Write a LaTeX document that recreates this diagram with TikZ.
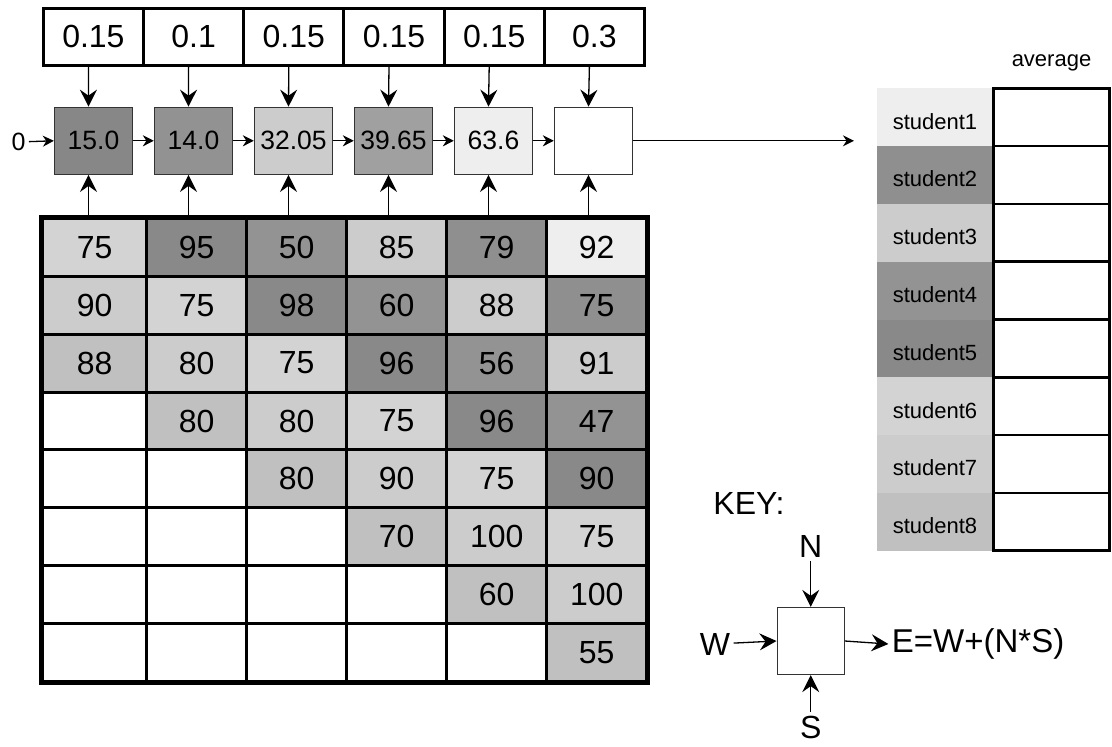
\documentclass[tikz,border=0pt]{standalone}
\usepackage{fontspec}
\setmainfont{Liberation Sans}
\usetikzlibrary{arrows.meta}
\definecolor{s1}{HTML}{EEEEEE}
\definecolor{s2}{HTML}{8F8F8F}
\definecolor{s3}{HTML}{CCCCCC}
\definecolor{s4}{HTML}{939393}
\definecolor{s5}{HTML}{898989}
\definecolor{s6}{HTML}{D3D3D3}
\definecolor{s7}{HTML}{CCCCCC}
\definecolor{s8}{HTML}{C0C0C0}
\definecolor{bA}{HTML}{878787}
\definecolor{bB}{HTML}{929292}
\definecolor{bC}{HTML}{CCCCCC}
\definecolor{bD}{HTML}{A0A0A0}
\definecolor{bE}{HTML}{EEEEEE}
\tikzset{
  bigfont/.style={font=\fontsize{32}{32}\selectfont},
  wcell/.style={draw=black, line width=3pt, minimum width=100.2pt, minimum height=57pt, inner sep=0pt, bigfont},
  pbox/.style={draw=black!80, line width=1.3pt, minimum width=78pt, minimum height=67pt, inner sep=0pt, font=\fontsize{26.5}{26.5}\selectfont},
  gcell/.style={draw=black, line width=3pt, minimum height=57.92pt, inner sep=0pt, bigfont},
  slabel/.style={minimum width=116.6pt, minimum height=57.8pt, inner sep=0pt, font=\fontsize{22}{22}\selectfont},
  avgcell/.style={draw=black, line width=2.5pt, minimum width=116pt, minimum height=57.8pt, inner sep=0pt},
  bigarrow/.style={draw=black, line width=1.3pt, -{Stealth[length=17pt,width=17pt,inset=6pt]}},
  smallarrow/.style={draw=black, line width=1.3pt, -{Stealth[length=11pt,width=11pt,inset=3.5pt]}},
}
\newcommand\gcell[3]{%
  \pgfmathtruncatemacro{\mygs}{6-#2+#1}%
  \pgfmathsetmacro{\mygx}{(#2==1)?94.7:(196.7+100*(#2-2))}%
  \pgfmathsetmacro{\mygw}{(#2==1)?104:100}%
  \pgfmathsetmacro{\mygy}{218.3+57.92*(#1-0.5)}%
  \ifnum\mygs>8\relax
    \node[gcell,minimum width=\mygw pt] (g#1-#2) at (\mygx,\mygy) {};%
  \else
    \node[gcell,minimum width=\mygw pt,fill=s\mygs] (g#1-#2) at (\mygx,\mygy) {#3};%
  \fi}
\begin{document}
\begin{tikzpicture}[x=1pt,y=-1pt]
\useasboundingbox (0,0) rectangle (1112,747);
% weights
\foreach \w [count=\i] in {0.15,0.1,0.15,0.15,0.15,0.3}
  \node[wcell] (w\i) at ({93.4+100.2*(\i-1)},36.7) {\w};
% processing boxes
\node[pbox,fill=bA] (b1) at (93.5,140.8) {15.0};
\node[pbox,fill=bB] (b2) at (193.5,140.8) {14.0};
\node[pbox,fill=bC] (b3) at (293.5,140.8) {32.05};
\node[pbox,fill=bD] (b4) at (393.5,140.8) {39.65};
\node[pbox,fill=bE] (b5) at (493.5,140.8) {63.6};
\node[pbox,fill=white] (b6) at (593.5,140.8) {};
\node[font=\fontsize{25}{25}\selectfont] (in) at (18.5,142) {0};
% grid
\foreach \v [count=\c] in {75,95,50,85,79,92} {\gcell{1}{\c}{\v}}
\foreach \v [count=\c] in {90,75,98,60,88,75} {\gcell{2}{\c}{\v}}
\foreach \v [count=\c] in {88,80,75,96,56,91} {\gcell{3}{\c}{\v}}
\foreach \v [count=\c] in {0,80,80,75,96,47} {\gcell{4}{\c}{\v}}
\foreach \v [count=\c] in {0,0,80,90,75,90} {\gcell{5}{\c}{\v}}
\foreach \v [count=\c] in {0,0,0,70,100,75} {\gcell{6}{\c}{\v}}
\foreach \v [count=\c] in {0,0,0,0,60,100} {\gcell{7}{\c}{\v}}
\foreach \v [count=\c] in {0,0,0,0,0,55} {\gcell{8}{\c}{\v}}
\draw[line width=4pt] (g1-1.north west) rectangle (g8-6.south east);
% arrows weights -> boxes, grid -> boxes, box -> box
\foreach \k in {1,...,6} {
  \draw[bigarrow] ([xshift=-5pt]w\k.south) -- ([xshift=-5pt]b\k.north);
  \draw[bigarrow] ([xshift=-5pt]b\k.south |- g1-\k.north) -- ([xshift=-5pt]b\k.south);
}
\draw[smallarrow] (in) -- (b1.west);
\foreach \k [evaluate=\k as \n using int(\k+1)] in {1,...,5}
  \draw[smallarrow] (b\k.east) -- (b\n.west);
\coordinate (outend) at (854,140.8);
\draw[smallarrow] (b6.east) -- (outend);
% student table
\node[font=\fontsize{22}{22}\selectfont, anchor=base] (avg) at (1051.5,66.7) {average};
\foreach \i in {1,...,8} {
  \node[slabel,fill=s\i] (st\i) at (935,{88.3+57.8*(\i-0.5)}) {};
  \node[font=\fontsize{22}{22}\selectfont] (stt\i) at ([yshift=-4pt]st\i.center) {student\i};
  \node[avgcell] (av\i) at (1051.3,{88.3+57.8*(\i-0.5)}) {};
}
% key
\node[bigfont] (key) at (749,503) {KEY:};
\node[draw=black!80, line width=1.3pt, minimum width=67pt, minimum height=67pt, inner sep=0pt] (kb) at (810.7,641) {};
\node[bigfont] (kN) at (810.7,546.7) {N};
\node[bigfont] (kS) at (810.7,727) {S};
\node[bigfont] (kW) at (715,644) {W};
\node[font=\fontsize{33}{33}\selectfont, anchor=west] (kE) at (888.4,644) {E=W+(N*S)};
\draw[bigarrow] (kN) -- (kb.north);
\draw[bigarrow] (kS) -- (kb.south);
\draw[bigarrow] (kW) -- (kb.west);
\draw[bigarrow] (kb.east) -- (kE.west);
\end{tikzpicture}
\end{document}
